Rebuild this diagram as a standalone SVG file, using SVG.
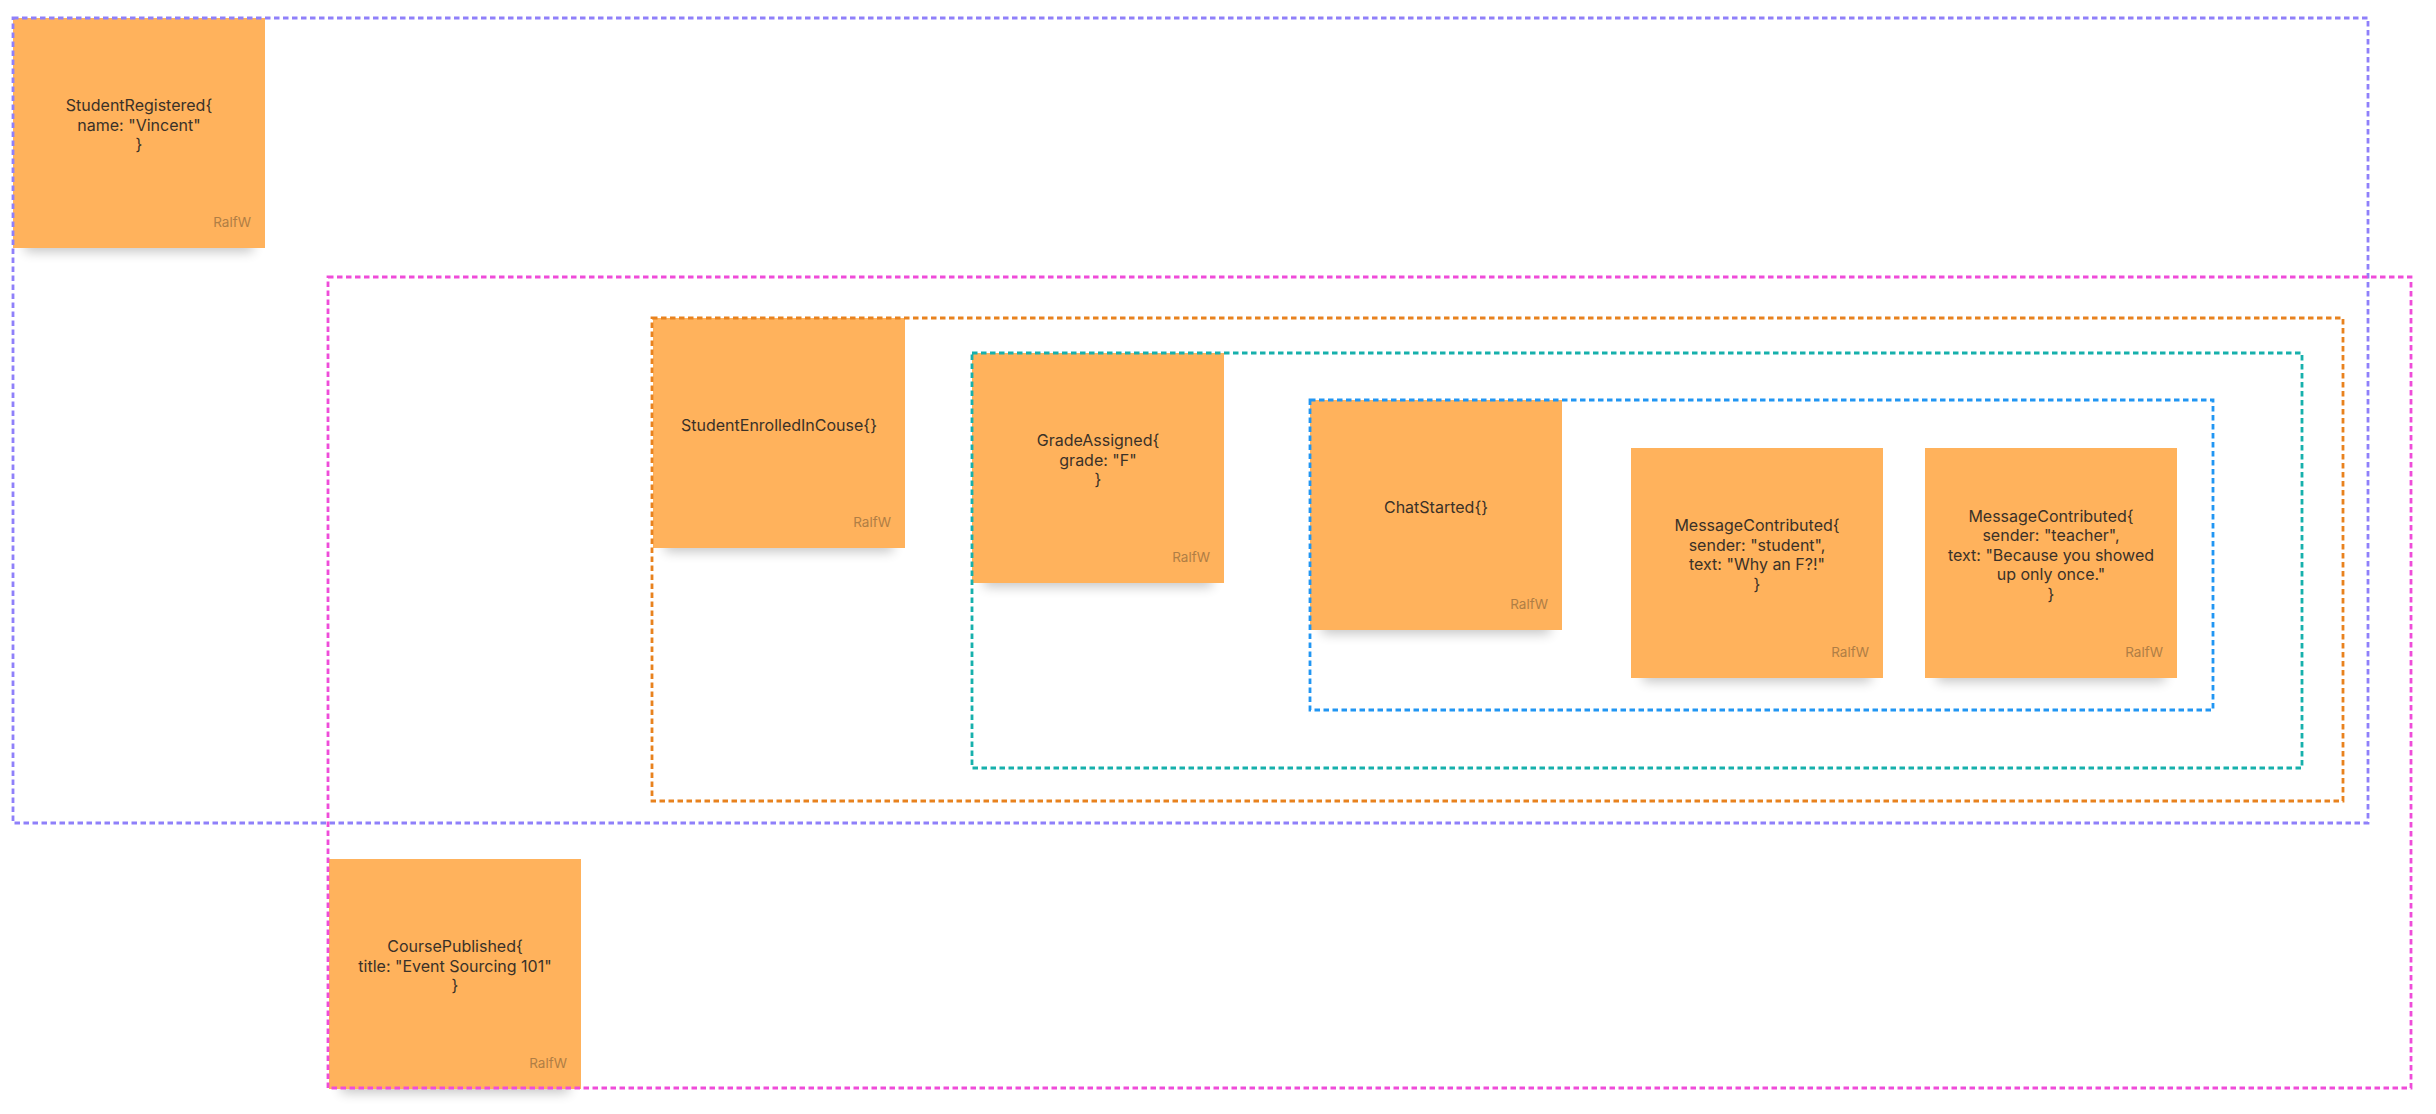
<svg xmlns="http://www.w3.org/2000/svg" width="2436" height="1114" viewBox="0 0 2436 1114">
<defs>
<filter id="sh" x="-20%" y="-20%" width="140%" height="160%">
<feGaussianBlur stdDeviation="6"/>
</filter>
<style>
.note{fill:#FFB25C}
.shadow{fill:#000;opacity:0.22;filter:url(#sh)}
.t{font-family:Inter,"Noto Sans","Liberation Sans",sans-serif;font-size:16px;fill:#3a3128;text-anchor:middle}
.a{font-family:Inter,"Noto Sans","Liberation Sans",sans-serif;font-size:13.5px;fill:#B07E45;text-anchor:end}
.box{fill:none;stroke-width:2.8;stroke-dasharray:5.5 3.5}
</style>
</defs>
<rect width="2436" height="1114" fill="#fff"/>
<g id="notes">
<g id="n-student-registered">
<rect class="shadow" x="25" y="222" width="228" height="30"/>
<rect class="note" x="13" y="18" width="252" height="230"/>
<text class="t" x="139" y="111">StudentRegistered{</text>
<text class="t" x="139" y="130.5">name: "Vincent"</text>
<text class="t" x="139" y="150">}</text>
<text class="a" x="251" y="227">RalfW</text>
</g>
<g id="n-student-enrolled">
<rect class="shadow" x="665" y="522" width="228" height="30"/>
<rect class="note" x="653" y="318" width="252" height="230"/>
<text class="t" x="779" y="430.5">StudentEnrolledInCouse{}</text>
<text class="a" x="891" y="527">RalfW</text>
</g>
<g id="n-grade-assigned">
<rect class="shadow" x="984" y="557" width="228" height="30"/>
<rect class="note" x="972" y="353" width="252" height="230"/>
<text class="t" x="1098" y="446">GradeAssigned{</text>
<text class="t" x="1098" y="465.5">grade: "F"</text>
<text class="t" x="1098" y="485">}</text>
<text class="a" x="1210" y="562">RalfW</text>
</g>
<g id="n-chat-started">
<rect class="shadow" x="1322" y="604" width="228" height="30"/>
<rect class="note" x="1310" y="400" width="252" height="230"/>
<text class="t" x="1436" y="512.5">ChatStarted{}</text>
<text class="a" x="1548" y="609">RalfW</text>
</g>
<g id="n-message-1">
<rect class="shadow" x="1643" y="652" width="228" height="30"/>
<rect class="note" x="1631" y="448" width="252" height="230"/>
<text class="t" x="1757" y="531.25">MessageContributed{</text>
<text class="t" x="1757" y="550.75">sender: "student",</text>
<text class="t" x="1757" y="570.25">text: "Why an F?!"</text>
<text class="t" x="1757" y="589.75">}</text>
<text class="a" x="1869" y="657">RalfW</text>
</g>
<g id="n-message-2">
<rect class="shadow" x="1937" y="652" width="228" height="30"/>
<rect class="note" x="1925" y="448" width="252" height="230"/>
<text class="t" x="2051" y="521.5">MessageContributed{</text>
<text class="t" x="2051" y="541">sender: "teacher",</text>
<text class="t" x="2051" y="560.5">text: "Because you showed</text>
<text class="t" x="2051" y="580">up only once."</text>
<text class="t" x="2051" y="599.5">}</text>
<text class="a" x="2163" y="657">RalfW</text>
</g>
<g id="n-course-published">
<rect class="shadow" x="341" y="1063" width="228" height="30"/>
<rect class="note" x="329" y="859" width="252" height="230"/>
<text class="t" x="455" y="952">CoursePublished{</text>
<text class="t" x="455" y="971.5">title: "Event Sourcing 101"</text>
<text class="t" x="455" y="991">}</text>
<text class="a" x="567" y="1068">RalfW</text>
</g>
</g>
<g id="connectors">
<rect id="frame-purple" class="box" stroke="#8F80FA" x="13" y="18" width="2355" height="805"/>
<rect id="frame-pink" class="box" stroke="#EF4CD9" x="328" y="277" width="2083" height="811"/>
<rect id="frame-orange" class="box" stroke="#E8821E" x="652" y="318" width="1691" height="483"/>
<rect id="frame-teal" class="box" stroke="#16B0AC" x="972" y="353" width="1330" height="415"/>
<rect id="frame-blue" class="box" stroke="#2196F3" x="1310" y="400" width="903" height="310"/>
</g>
</svg>
